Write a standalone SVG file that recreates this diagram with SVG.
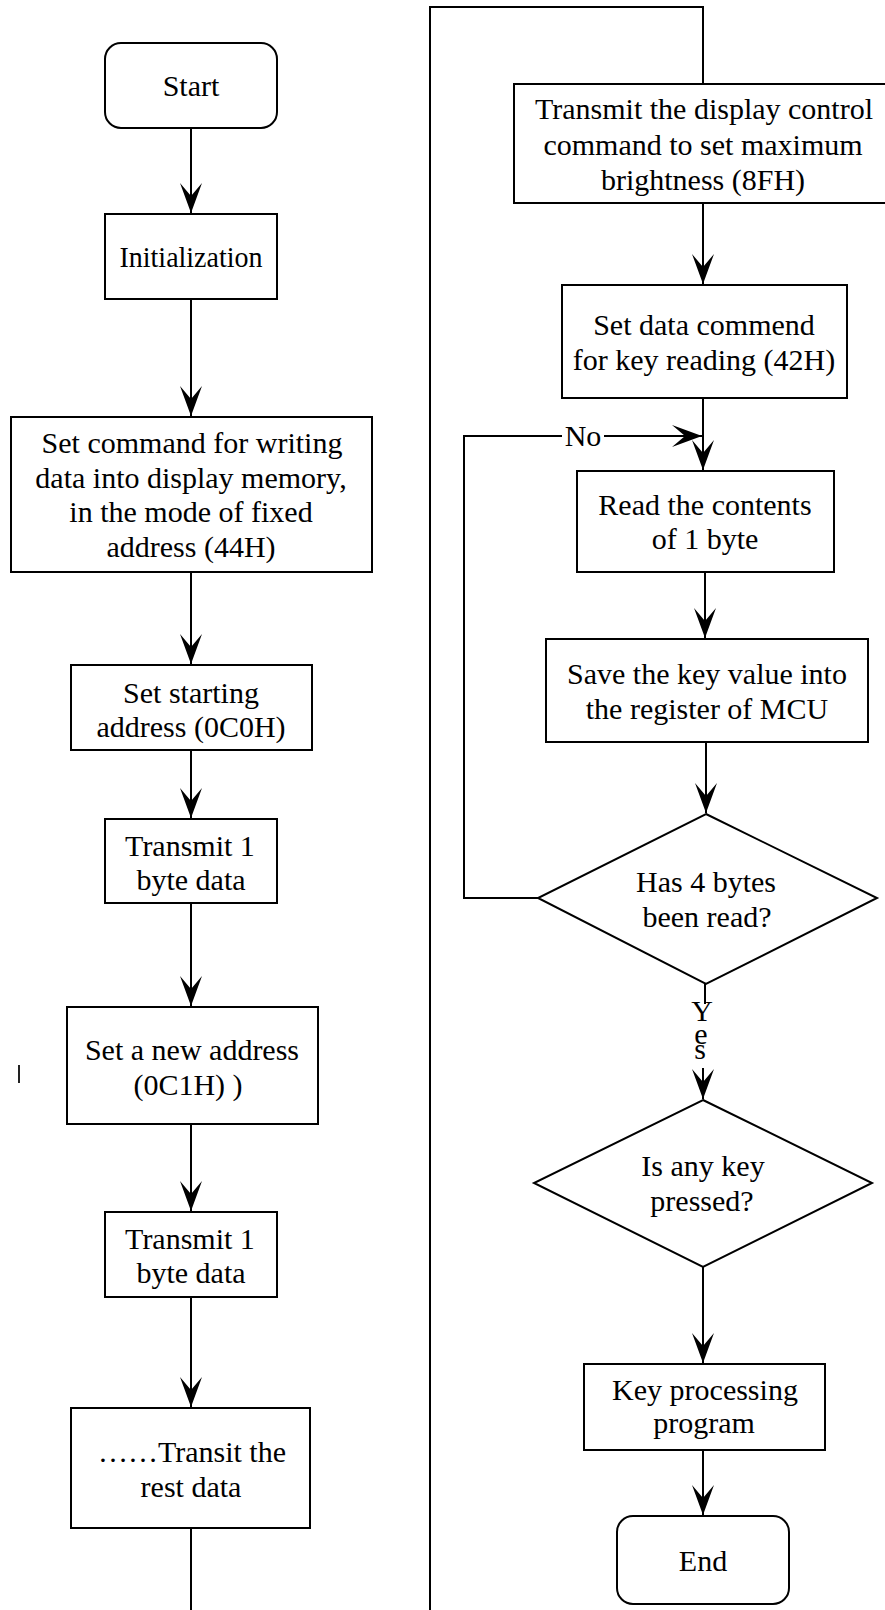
<svg xmlns="http://www.w3.org/2000/svg" width="885" height="1610" viewBox="0 0 885 1610">
<style>
.box{fill:#fff;stroke:#000;stroke-width:2}
.ln{fill:none;stroke:#000;stroke-width:2}
.arr{fill:none;stroke:#000;stroke-width:2;marker-end:url(#ah)}
text{font-family:"Liberation Serif","Times New Roman",serif;font-size:30px;fill:#000;text-anchor:middle}
</style>
<defs>
<marker id="ah" markerUnits="userSpaceOnUse" markerWidth="34" markerHeight="26" viewBox="-32 -13 34 26" refX="0" refY="0" orient="auto">
<path d="M0,0 L-30,-11 L-17,0 L-30,11 Z" fill="#000"/>
</marker>
</defs>
<rect width="885" height="1610" fill="#fff"/>
<g id="connectors">
<line class="arr" x1="191" y1="128" x2="191" y2="213"/>
<line class="arr" x1="191" y1="299" x2="191" y2="416"/>
<line class="arr" x1="191" y1="572" x2="191" y2="664"/>
<line class="arr" x1="191" y1="750" x2="191" y2="818"/>
<line class="arr" x1="191" y1="903" x2="191" y2="1006"/>
<line class="arr" x1="191" y1="1124" x2="191" y2="1211"/>
<line class="arr" x1="191" y1="1297" x2="191" y2="1407"/>
<line class="ln" x1="191" y1="1528" x2="191" y2="1612"/>
<polyline class="ln" points="430,1612 430,7 703,7 703,84"/>
<line class="arr" x1="703" y1="203" x2="703" y2="284"/>
<line class="arr" x1="703" y1="398" x2="703" y2="470"/>
<polyline class="arr" points="538,898 464,898 464,436 702,436"/>
<line class="arr" x1="705" y1="572" x2="705" y2="638"/>
<line class="arr" x1="706" y1="742" x2="706" y2="813"/>
<line class="ln" x1="705" y1="984" x2="705" y2="1004"/>
<line class="arr" x1="703" y1="1068" x2="703" y2="1099"/>
<line class="arr" x1="703" y1="1267" x2="703" y2="1363"/>
<line class="arr" x1="703" y1="1450" x2="703" y2="1515"/>
<rect x="562" y="424" width="42" height="26" fill="#fff"/>
<text x="583" y="446">No</text>
<text x="702" y="1021">Y</text>
<text x="701" y="1044">e</text>
<text x="700" y="1059">s</text>
</g>
<line id="tick" x1="19" y1="1065" x2="19" y2="1083" stroke="#222" stroke-width="2"/>
<g id="start"><rect class="box" x="105" y="43" width="172" height="85" rx="16"/><text x="191" y="96">Start</text></g>
<g id="init"><rect class="box" x="105" y="214" width="172" height="85"/><text x="191" y="267" textLength="143" lengthAdjust="spacingAndGlyphs">Initialization</text></g>
<g id="setcmd"><rect class="box" x="11" y="417" width="361" height="155"/>
<text x="192" y="453">Set command for writing</text>
<text x="191" y="488">data into display memory,</text>
<text x="191" y="522">in the mode of fixed</text>
<text x="191" y="557">address (44H)</text></g>
<g id="setstart"><rect class="box" x="71" y="665" width="241" height="85"/>
<text x="191" y="703">Set starting</text>
<text x="191" y="737">address (0C0H)</text></g>
<g id="tx1"><rect class="box" x="105" y="819" width="172" height="84"/>
<text x="190" y="856">Transmit 1</text>
<text x="191" y="890">byte data</text></g>
<g id="newaddr"><rect class="box" x="67" y="1007" width="251" height="117"/>
<text x="192" y="1060">Set a new address</text>
<text x="188" y="1095">(0C1H) )</text></g>
<g id="tx2"><rect class="box" x="105" y="1212" width="172" height="85"/>
<text x="190" y="1249">Transmit 1</text>
<text x="191" y="1283">byte data</text></g>
<g id="rest"><rect class="box" x="71" y="1408" width="239" height="120"/>
<text x="192" y="1462">……Transit the</text>
<text x="191" y="1497">rest data</text></g>
<g id="bright"><rect class="box" x="514" y="84" width="374" height="119"/>
<text x="704" y="119">Transmit the display control</text>
<text x="703" y="155">command to set maximum</text>
<text x="703" y="190">brightness (8FH)</text></g>
<g id="keycmd"><rect class="box" x="562" y="285" width="285" height="113"/>
<text x="704" y="335">Set data commend</text>
<text x="704" y="370">for key reading (42H)</text></g>
<g id="read"><rect class="box" x="577" y="471" width="257" height="101"/>
<text x="705" y="515">Read the contents</text>
<text x="705" y="549">of 1 byte</text></g>
<g id="save"><rect class="box" x="546" y="639" width="322" height="103"/>
<text x="707" y="684">Save the key value into</text>
<text x="707" y="719">the register of MCU</text></g>
<g id="has4"><polygon class="box" points="706,814 877,898 706,984 538,898"/>
<text x="706" y="892">Has 4 bytes</text>
<text x="707" y="927">been read?</text></g>
<g id="anykey"><polygon class="box" points="703,1100 872,1183 703,1267 534,1183"/>
<text x="703" y="1176">Is any key</text>
<text x="702" y="1211">pressed?</text></g>
<g id="keyproc"><rect class="box" x="584" y="1364" width="241" height="86"/>
<text x="705" y="1400">Key processing</text>
<text x="704" y="1433">program</text></g>
<g id="end"><rect class="box" x="617" y="1516" width="172" height="88" rx="16"/><text x="703" y="1571">End</text></g>
</svg>
